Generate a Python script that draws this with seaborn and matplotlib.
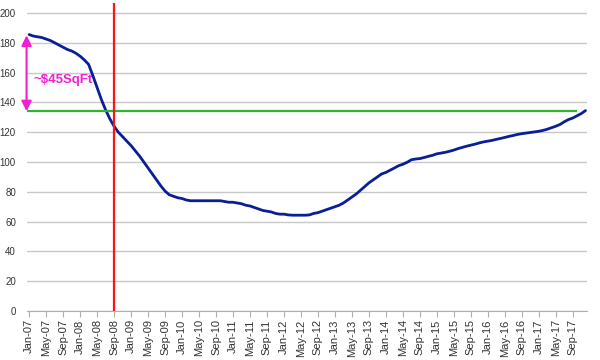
import pandas as pd
import seaborn as sns
import matplotlib.pyplot as plt

# monthly price per sq ft, Jan-07 .. Dec-17
y2007 = [185.5, 184.5, 184, 183.5, 182.5, 181.5, 180, 178.5, 177, 175.5, 174.5, 173]
y2008 = [171, 168.5, 165.5, 158, 150, 142, 135, 129, 124, 120, 117, 114]
y2009 = [111, 107.5, 104, 100, 96, 92, 88, 84, 80.5, 78, 77, 76]
y2010 = [75.5, 74.5, 74, 74, 74, 74, 74, 74, 74, 74, 73.5, 73]
y2011 = [73, 72.5, 72, 71, 70.5, 69.5, 68.5, 67.5, 67, 66.5, 65.5, 65]
y2012 = [65, 64.5, 64.3, 64.3, 64.3, 64.3, 64.5, 65.5, 66, 67, 68, 69]
y2013 = [70, 71, 72.5, 74.5, 76.5, 78.5, 81, 83.5, 86, 88, 90, 92]
y2014 = [93, 94.5, 96, 97.5, 98.5, 99.8, 101.5, 102, 102.3, 103, 103.8, 104.5]
y2015 = [105.5, 106, 106.5, 107.2, 108, 109, 109.8, 110.6, 111.3, 112, 112.8, 113.5]
y2016 = [114, 114.5, 115.2, 115.8, 116.5, 117.2, 117.8, 118.5, 119, 119.4, 119.8, 120.2]
y2017 = [120.6, 121.2, 122, 123, 124, 125.2, 127, 128.5, 129.5, 131, 132.5, 134.5]

values = y2007 + y2008 + y2009 + y2010 + y2011 + y2012 + y2013 + y2014 + y2015 + y2016 + y2017
months = pd.date_range('2007-01-01', periods=len(values), freq='MS')

current_level = 134          # green reference line
crash_month = '2008-09-01'   # red vertical line
green_end = '2017-10-01'
peak_value = 185
gap_label = r'~\$45SqFt'
gap_label_y = 155

df = pd.DataFrame({'pos': range(len(values)), 'month': months, 'price': values})

sns.set_style('white')
plt.rcParams['font.family'] = ['Liberation Sans', 'DejaVu Sans']

fig = plt.figure(figsize=(6, 3.6), dpi=100)
ax = fig.add_axes([0.045, 0.136, 0.933, 0.857])

sns.lineplot(data=df, x='pos', y='price', color='#0a1e96', linewidth=2.0, ax=ax)

crash_pos = df.loc[df['month'] == crash_month, 'pos'].iloc[0]
green_end_pos = df.loc[df['month'] == green_end, 'pos'].iloc[0]

ax.hlines(current_level, -0.5, green_end_pos, color='#2db52d', linewidth=1.6, zorder=3)
ax.axvline(crash_pos, color='#ff1414', linewidth=1.6, zorder=4)

ax.annotate('', xy=(-0.6, current_level), xytext=(-0.6, peak_value),
            arrowprops=dict(arrowstyle='<|-|>', color='#f21fd2', lw=1.5,
                            mutation_scale=15, shrinkA=0, shrinkB=0),
            annotation_clip=False, zorder=5)
ax.text(1.0, gap_label_y, gap_label, color='#f21fd2',
        fontsize=9.5, fontweight='bold', va='center', ha='left',
        family=['Liberation Sans Narrow', 'Liberation Sans', 'DejaVu Sans'])

ax.set_xlim(-0.5, len(values) - 0.7)
ax.set_ylim(0, 207)
ax.set_yticks(range(0, 201, 20))
ax.grid(axis='y', color='#c8c8c8', linewidth=1)
ax.grid(axis='x', visible=False)

tick_pos = df['pos'][::4]
tick_lab = df['month'][::4].dt.strftime('%b-%y')
ax.set_xticks(tick_pos)
ax.set_xticklabels(tick_lab, rotation=90)

ax.tick_params(axis='x', labelsize=8, colors='#333333', length=4, width=0.8,
               direction='out', bottom=True, color='#b0b0b0', pad=2)
ax.tick_params(axis='y', labelsize=7, colors='#333333', length=0, pad=8)

for side in ['left', 'right', 'top']:
    ax.spines[side].set_visible(False)
ax.spines['bottom'].set_color('#b0b0b0')
ax.set_xlabel('')
ax.set_ylabel('')

fig.savefig('out.png', dpi=100)
